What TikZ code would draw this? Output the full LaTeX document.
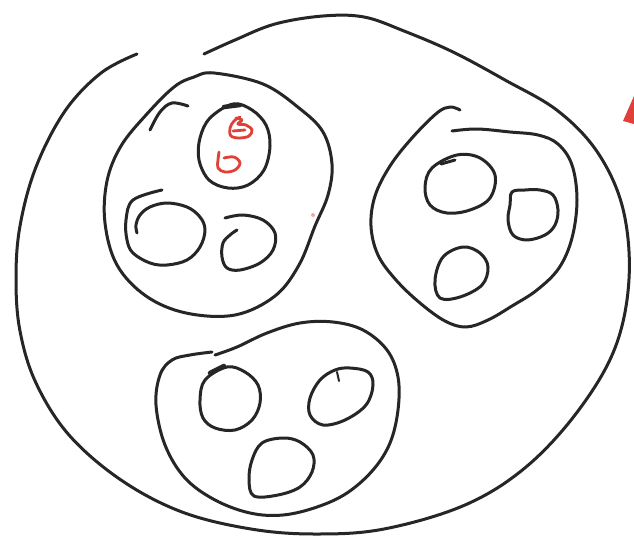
\documentclass[tikz,border=0pt]{standalone}
\definecolor{penred}{RGB}{224,64,56}
\begin{document}
\begin{tikzpicture}[x=1pt,y=-1pt,
  ink/.style={draw=black!85,line width=3pt,line cap=round,line join=round},
  redink/.style={draw=penred,line width=2.8pt,line cap=round,line join=round}]
\fill[white] (0,0) rectangle (634,546);
\useasboundingbox (0,0) rectangle (634,546);
% outer circle
\draw[ink] plot[smooth,tension=0.6] coordinates {(137,54) (101,73) (65,111) (36,167) (20,226) (16,279) (20,331) (36,383) (69,435) (121,480) (182,512) (251,529) (315,534) (384,529) (465,505) (526,467) (578,411) (615,348) (629,279) (623,209) (598,153) (558,111) (505,80) (453,52) (404,31) (364,17) (323,16) (275,24) (235,40) (204,54)};
% group 1
\draw[ink] plot[smooth cycle,tension=0.6] coordinates {(214,73) (263,84) (299,108) (323,132) (332,164) (328,195) (315,226) (299,265) (275,296) (235,315) (186,313) (146,296) (117,265) (105,223) (107,181) (121,146) (146,115) (174,87) (194,77)};
\draw[ink] plot[smooth,tension=0.6] coordinates {(188,106) (172,103) (160,112) (150,130)};
\draw[ink] plot[smooth cycle,tension=0.6] coordinates {(233,104) (252,110) (266,125) (270,146) (264,170) (248,185) (228,188) (209,180) (199,160) (200,138) (210,118)};
\draw[ink,line width=4.5pt] (224,107) -- (240,105);
\draw[redink] plot[smooth,tension=0.6] coordinates {(240,117) (234,121) (230,128) (231,136) (240,138) (249,136) (252,130) (246,125) (238,124) (242,120) (236,118)};
\draw[redink] (233,131) -- (245,130);
\draw[redink] plot[smooth,tension=0.6] coordinates {(219,152) (218,160) (218,168) (225,172) (235,170) (240,163) (234,157) (224,158)};
\fill[penred!45] (313,215) circle (2);
\draw[ink] plot[smooth,tension=0.6] coordinates {(162,190) (133,200) (126,220) (127,240) (133,253) (150,263) (167,265) (187,260) (200,247) (205,230) (200,217) (187,207) (167,203) (150,207) (140,215) (136,225) (137,233)};
\draw[ink] plot[smooth,tension=0.6] coordinates {(225,218) (243,215) (263,220) (275,233) (273,250) (260,263) (240,270) (227,268) (222,257) (223,243) (230,235) (237,230)};
% group 2
\draw[ink] plot[smooth,tension=0.6] coordinates {(460,110) (450,107) (437,113) (412,138) (390,166) (375,196) (371,226) (378,255) (396,280) (420,303) (445,321) (466,327) (488,320) (512,306) (537,290) (559,268) (572,238) (577,200) (572,165) (558,144) (538,135) (510,132) (477,129) (452,131)};
\draw[ink] plot[smooth cycle,tension=0.6] coordinates {(457,155) (480,158) (495,175) (490,198) (470,210) (447,213) (430,205) (425,187) (432,168)};
\draw[ink] (441,164) -- (455,160);
\draw[ink] plot[smooth cycle,tension=0.6] coordinates {(512,192) (525,190) (540,190) (553,195) (558,210) (555,225) (545,235) (527,240) (513,235) (508,220) (510,205)};
\draw[ink] plot[smooth cycle,tension=0.6] coordinates {(463,247) (480,253) (488,267) (482,285) (460,297) (440,298) (435,280) (443,257)};
% group 3
\draw[ink] plot[smooth,tension=0.6] coordinates {(215,355) (237,347) (267,333) (300,323) (333,322) (363,330) (387,350) (398,377) (398,410) (390,443) (373,470) (347,493) (317,507) (283,515) (250,513) (215,500) (185,478) (165,445) (156,405) (160,375) (172,360) (190,355) (212,352)};
\draw[ink] plot[smooth cycle,tension=0.6] coordinates {(227,367) (245,372) (258,385) (260,403) (252,420) (235,430) (215,428) (203,418) (200,400) (205,380)};
\draw[ink,line width=4.5pt] (210,373) -- (224,366);
\draw[ink] plot[smooth cycle,tension=0.6] coordinates {(350,368) (368,372) (373,385) (366,405) (345,420) (323,425) (310,415) (310,398) (320,380) (335,370)};
\draw[ink,line width=2pt] (337,372) -- (339,381);
\draw[ink] plot[smooth cycle,tension=0.6] coordinates {(283,438) (300,442) (313,455) (312,472) (300,487) (278,495) (254,496) (249,480) (252,460) (262,443)};
% red mark at right edge
\fill[penred] (623,121) -- (634,96) -- (634,124) -- cycle;
\end{tikzpicture}
\end{document}
